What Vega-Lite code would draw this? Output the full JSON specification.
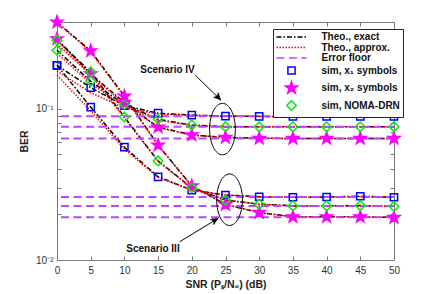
{
  "$schema": "https://vega.github.io/schema/vega-lite/v6.json",
  "width": 337,
  "height": 238,
  "autosize": {"type": "none"},
  "padding": {"left": 57, "top": 22, "right": 42, "bottom": 34},
  "background": "white",
  "config": {
    "view": {"stroke": "#7a7a7a", "strokeWidth": 1},
    "font": "Liberation Sans",
    "axis": {
      "grid": false, "domain": false, "tickColor": "#7a7a7a", "tickSize": -4,
      "labelColor": "#333333", "labelFont": "Liberation Sans", "labelFontSize": 10,
      "titleFont": "Liberation Sans", "titleFontSize": 10.5, "titleFontWeight": "bold", "titleColor": "#222222"
    },
    "legend": {
      "fillColor": "white", "strokeColor": "#262626", "padding": 3,
      "labelFont": "Liberation Sans", "labelFontSize": 10, "labelFontWeight": "bold", "labelColor": "#111111",
      "symbolSize": 64, "symbolStrokeWidth": 1.5, "symbolOffset": 10.5, "labelOffset": 25, "rowPadding": 0.5
    }
  },
  "datasets": {
    "pts": [
      {"snr": 0, "sc": "IV", "sim": "s1", "ex": 0.194, "ap": 0.178},
      {"snr": 5, "sc": "IV", "sim": "s1", "ex": 0.138, "ap": 0.128},
      {"snr": 10, "sc": "IV", "sim": "s1", "ex": 0.105, "ap": 0.101},
      {"snr": 15, "sc": "IV", "sim": "s1", "ex": 0.0935, "ap": 0.0925},
      {"snr": 20, "sc": "IV", "sim": "s1", "ex": 0.0908, "ap": 0.0905},
      {"snr": 25, "sc": "IV", "sim": "s1", "ex": 0.0894, "ap": 0.0893},
      {"snr": 30, "sc": "IV", "sim": "s1", "ex": 0.0891, "ap": 0.0891},
      {"snr": 35, "sc": "IV", "sim": "s1", "ex": 0.089, "ap": 0.089},
      {"snr": 40, "sc": "IV", "sim": "s1", "ex": 0.089, "ap": 0.089},
      {"snr": 45, "sc": "IV", "sim": "s1", "ex": 0.089, "ap": 0.089},
      {"snr": 50, "sc": "IV", "sim": "s1", "ex": 0.089, "ap": 0.089},
      {"snr": 0, "sc": "IV", "sim": "s2", "ex": 0.29, "ap": 0.285},
      {"snr": 5, "sc": "IV", "sim": "s2", "ex": 0.17, "ap": 0.166},
      {"snr": 10, "sc": "IV", "sim": "s2", "ex": 0.11, "ap": 0.108},
      {"snr": 15, "sc": "IV", "sim": "s2", "ex": 0.0757, "ap": 0.0752},
      {"snr": 20, "sc": "IV", "sim": "s2", "ex": 0.0671, "ap": 0.0669},
      {"snr": 25, "sc": "IV", "sim": "s2", "ex": 0.0647, "ap": 0.0646},
      {"snr": 30, "sc": "IV", "sim": "s2", "ex": 0.0638, "ap": 0.0638},
      {"snr": 35, "sc": "IV", "sim": "s2", "ex": 0.0637, "ap": 0.0637},
      {"snr": 40, "sc": "IV", "sim": "s2", "ex": 0.0637, "ap": 0.0637},
      {"snr": 45, "sc": "IV", "sim": "s2", "ex": 0.0637, "ap": 0.0637},
      {"snr": 50, "sc": "IV", "sim": "s2", "ex": 0.0637, "ap": 0.0637},
      {"snr": 0, "sc": "IV", "sim": "sn", "ex": 0.244, "ap": 0.232},
      {"snr": 5, "sc": "IV", "sim": "sn", "ex": 0.152, "ap": 0.147},
      {"snr": 10, "sc": "IV", "sim": "sn", "ex": 0.107, "ap": 0.104},
      {"snr": 15, "sc": "IV", "sim": "sn", "ex": 0.0853, "ap": 0.0839},
      {"snr": 20, "sc": "IV", "sim": "sn", "ex": 0.078, "ap": 0.0775},
      {"snr": 25, "sc": "IV", "sim": "sn", "ex": 0.0761, "ap": 0.0759},
      {"snr": 30, "sc": "IV", "sim": "sn", "ex": 0.076, "ap": 0.076},
      {"snr": 35, "sc": "IV", "sim": "sn", "ex": 0.076, "ap": 0.076},
      {"snr": 40, "sc": "IV", "sim": "sn", "ex": 0.076, "ap": 0.076},
      {"snr": 45, "sc": "IV", "sim": "sn", "ex": 0.076, "ap": 0.076},
      {"snr": 50, "sc": "IV", "sim": "sn", "ex": 0.076, "ap": 0.076},
      {"snr": 0, "sc": "III", "sim": "s1", "ex": 0.194, "ap": 0.167},
      {"snr": 5, "sc": "III", "sim": "s1", "ex": 0.1027, "ap": 0.097},
      {"snr": 10, "sc": "III", "sim": "s1", "ex": 0.0557, "ap": 0.054},
      {"snr": 15, "sc": "III", "sim": "s1", "ex": 0.0355, "ap": 0.0352},
      {"snr": 20, "sc": "III", "sim": "s1", "ex": 0.029, "ap": 0.0289},
      {"snr": 25, "sc": "III", "sim": "s1", "ex": 0.0269, "ap": 0.0269},
      {"snr": 30, "sc": "III", "sim": "s1", "ex": 0.0262, "ap": 0.0262},
      {"snr": 35, "sc": "III", "sim": "s1", "ex": 0.026, "ap": 0.026},
      {"snr": 40, "sc": "III", "sim": "s1", "ex": 0.0261, "ap": 0.0261},
      {"snr": 45, "sc": "III", "sim": "s1", "ex": 0.0264, "ap": 0.0262},
      {"snr": 50, "sc": "III", "sim": "s1", "ex": 0.026, "ap": 0.026},
      {"snr": 0, "sc": "III", "sim": "s2", "ex": 0.374, "ap": 0.37},
      {"snr": 5, "sc": "III", "sim": "s2", "ex": 0.2416, "ap": 0.238},
      {"snr": 10, "sc": "III", "sim": "s2", "ex": 0.1214, "ap": 0.12},
      {"snr": 15, "sc": "III", "sim": "s2", "ex": 0.0575, "ap": 0.0572},
      {"snr": 20, "sc": "III", "sim": "s2", "ex": 0.0309, "ap": 0.0308},
      {"snr": 25, "sc": "III", "sim": "s2", "ex": 0.0233, "ap": 0.0233},
      {"snr": 30, "sc": "III", "sim": "s2", "ex": 0.0206, "ap": 0.0206},
      {"snr": 35, "sc": "III", "sim": "s2", "ex": 0.0193, "ap": 0.0193},
      {"snr": 40, "sc": "III", "sim": "s2", "ex": 0.0193, "ap": 0.0193},
      {"snr": 45, "sc": "III", "sim": "s2", "ex": 0.0193, "ap": 0.0193},
      {"snr": 50, "sc": "III", "sim": "s2", "ex": 0.0191, "ap": 0.0192},
      {"snr": 0, "sc": "III", "sim": "sn", "ex": 0.284, "ap": 0.268},
      {"snr": 5, "sc": "III", "sim": "sn", "ex": 0.1748, "ap": 0.168},
      {"snr": 10, "sc": "III", "sim": "sn", "ex": 0.0883, "ap": 0.087},
      {"snr": 15, "sc": "III", "sim": "sn", "ex": 0.0452, "ap": 0.0448},
      {"snr": 20, "sc": "III", "sim": "sn", "ex": 0.03, "ap": 0.0299},
      {"snr": 25, "sc": "III", "sim": "sn", "ex": 0.0249, "ap": 0.0249},
      {"snr": 30, "sc": "III", "sim": "sn", "ex": 0.0234, "ap": 0.0234},
      {"snr": 35, "sc": "III", "sim": "sn", "ex": 0.0228, "ap": 0.0228},
      {"snr": 40, "sc": "III", "sim": "sn", "ex": 0.0228, "ap": 0.0228},
      {"snr": 45, "sc": "III", "sim": "sn", "ex": 0.0229, "ap": 0.0228},
      {"snr": 50, "sc": "III", "sim": "sn", "ex": 0.0226, "ap": 0.0227}
    ],
    "floors": [
      {"sc": "IV", "sim": "s1", "k": "fl", "ber": 0.0891},
      {"sc": "IV", "sim": "sn", "k": "fl", "ber": 0.076},
      {"sc": "IV", "sim": "s2", "k": "fl", "ber": 0.0637},
      {"sc": "III", "sim": "s1", "k": "fl", "ber": 0.0261},
      {"sc": "III", "sim": "sn", "k": "fl", "ber": 0.0228},
      {"sc": "III", "sim": "s2", "k": "fl", "ber": 0.0192}
    ],
    "notes": [
      {"snr": 16.4, "ber": 0.1803, "t": "Scenario IV"},
      {"snr": 14.24, "ber": 0.0119, "t": "Scenario III"}
    ],
    "ellipses": [
      {"snr": 24.55, "ber": 0.0734},
      {"snr": 25.6, "ber": 0.02503}
    ],
    "arrows": [
      {"id": "IV", "snr": 20.5, "ber": 0.167, "snr2": 24.3, "ber2": 0.1142},
      {"id": "III", "snr": 18.2, "ber": 0.0132, "snr2": 23.9, "ber2": 0.01886}
    ]
  },
  "layer": [
    {
      "data": {"name": "pts"},
      "transform": [{"fold": ["ex", "ap"], "as": ["k", "v"]}, {"filter": "datum.k == 'ex'"}],
      "mark": {"type": "line", "strokeWidth": 1.5},
      "encoding": {
        "x": {"field": "snr", "type": "quantitative", "scale": {"domain": [0, 50], "nice": false, "zero": false},
          "axis": {"orient": "bottom", "values": [0, 5, 10, 15, 20, 25, 30, 35, 40, 45, 50], "title": "SNR (Pₛ/N₀) (dB)", "labelPadding": 9, "titlePadding": 4, "labelFlush": false}},
        "y": {"field": "v", "type": "quantitative", "scale": {"type": "log", "domain": [0.01, 0.375], "nice": false},
          "axis": {"orient": "left", "values": [0.01, 0.02, 0.03, 0.04, 0.05, 0.06, 0.07, 0.08, 0.09, 0.1, 0.2, 0.3], "labelExpr": "abs(datum.value - 0.01) < 0.001 ? '10⁻²' : abs(datum.value - 0.1) < 0.001 ? '10⁻¹' : ''", "title": "BER", "labelPadding": 8, "titlePadding": 6}},
        "detail": [{"field": "sc"}, {"field": "sim"}],
        "stroke": {"field": "k", "type": "nominal",
          "scale": {"domain": ["ex", "ap", "fl", "s1", "s2", "sn"], "range": ["#000000", "#ff0000", "#b847ff", "#0000ff", "#ff00ff", "#00ee00"]},
          "legend": {"title": null, "orient": "none", "legendX": 216, "legendY": 7, "labelExpr": "datum.value=='ex'?'Theo., exact':datum.value=='ap'?'Theo., approx.':datum.value=='fl'?'Error floor':datum.value=='s1'?'sim, x₁ symbols':datum.value=='s2'?'sim, x₂ symbols':'sim, NOMA-DRN'"}},
        "strokeDash": {"field": "k", "type": "nominal",
          "scale": {"domain": ["ex", "ap", "fl", "s1", "s2", "sn"], "range": [[5, 2, 1.5, 2], [1.5, 1.5], [8, 4.5], [1, 0], [1, 0], [1, 0]]},
          "legend": {"title": null, "orient": "none", "legendX": 216, "legendY": 7, "labelExpr": "datum.value=='ex'?'Theo., exact':datum.value=='ap'?'Theo., approx.':datum.value=='fl'?'Error floor':datum.value=='s1'?'sim, x₁ symbols':datum.value=='s2'?'sim, x₂ symbols':'sim, NOMA-DRN'"}}
      }
    },
    {
      "data": {"name": "pts"},
      "transform": [{"fold": ["ex", "ap"], "as": ["k", "v"]}, {"filter": "datum.k == 'ap'"}],
      "mark": {"type": "line", "strokeWidth": 1.5},
      "encoding": {
        "x": {"field": "snr", "type": "quantitative", "scale": {"domain": [0, 50], "nice": false, "zero": false}, "axis": null},
        "y": {"field": "v", "type": "quantitative", "scale": {"type": "log", "domain": [0.01, 0.375], "nice": false}, "axis": null},
        "detail": [{"field": "sc"}, {"field": "sim"}],
        "stroke": {"field": "k", "type": "nominal",
          "scale": {"domain": ["ex", "ap", "fl", "s1", "s2", "sn"], "range": ["#000000", "#ff0000", "#b847ff", "#0000ff", "#ff00ff", "#00ee00"]},
          "legend": {"title": null, "orient": "none", "legendX": 216, "legendY": 7, "labelExpr": "datum.value=='ex'?'Theo., exact':datum.value=='ap'?'Theo., approx.':datum.value=='fl'?'Error floor':datum.value=='s1'?'sim, x₁ symbols':datum.value=='s2'?'sim, x₂ symbols':'sim, NOMA-DRN'"}},
        "strokeDash": {"field": "k", "type": "nominal",
          "scale": {"domain": ["ex", "ap", "fl", "s1", "s2", "sn"], "range": [[5, 2, 1.5, 2], [1.5, 1.5], [8, 4.5], [1, 0], [1, 0], [1, 0]]},
          "legend": {"title": null, "orient": "none", "legendX": 216, "legendY": 7, "labelExpr": "datum.value=='ex'?'Theo., exact':datum.value=='ap'?'Theo., approx.':datum.value=='fl'?'Error floor':datum.value=='s1'?'sim, x₁ symbols':datum.value=='s2'?'sim, x₂ symbols':'sim, NOMA-DRN'"}}
      }
    },
    {
      "data": {"name": "floors"},
      "mark": {"type": "rule", "strokeWidth": 2},
      "encoding": {
        "y": {"field": "ber", "type": "quantitative", "scale": {"type": "log", "domain": [0.01, 0.375], "nice": false}, "axis": null},
        "stroke": {"field": "k", "type": "nominal",
          "scale": {"domain": ["ex", "ap", "fl", "s1", "s2", "sn"], "range": ["#000000", "#ff0000", "#b847ff", "#0000ff", "#ff00ff", "#00ee00"]},
          "legend": {"title": null, "orient": "none", "legendX": 216, "legendY": 7, "labelExpr": "datum.value=='ex'?'Theo., exact':datum.value=='ap'?'Theo., approx.':datum.value=='fl'?'Error floor':datum.value=='s1'?'sim, x₁ symbols':datum.value=='s2'?'sim, x₂ symbols':'sim, NOMA-DRN'"}},
        "strokeDash": {"field": "k", "type": "nominal",
          "scale": {"domain": ["ex", "ap", "fl", "s1", "s2", "sn"], "range": [[5, 2, 1.5, 2], [1.5, 1.5], [8, 4.5], [1, 0], [1, 0], [1, 0]]},
          "legend": {"title": null, "orient": "none", "legendX": 216, "legendY": 7, "labelExpr": "datum.value=='ex'?'Theo., exact':datum.value=='ap'?'Theo., approx.':datum.value=='fl'?'Error floor':datum.value=='s1'?'sim, x₁ symbols':datum.value=='s2'?'sim, x₂ symbols':'sim, NOMA-DRN'"}}
      }
    },
    {
      "data": {"name": "pts"},
      "mark": {"type": "point", "size": 64, "strokeWidth": 1.5, "opacity": 1, "clip": false},
      "encoding": {
        "x": {"field": "snr", "type": "quantitative", "scale": {"domain": [0, 50], "nice": false, "zero": false}, "axis": null},
        "y": {"field": "ex", "type": "quantitative", "scale": {"type": "log", "domain": [0.01, 0.375], "nice": false}, "axis": null},
        "shape": {"field": "sim", "type": "nominal",
          "scale": {"domain": ["ex", "ap", "fl", "s1", "s2", "sn"], "range": ["M-3.75,0H3.75", "M-3.75,0H3.75", "M-3.75,0H3.75", "M-0.9,-0.9H0.9V0.9H-0.9Z", "M0,-1.6L0.376,-0.518L1.522,-0.494L0.608,0.198L0.941,1.294L0,0.64L-0.941,1.294L-0.608,0.198L-1.522,-0.494L-0.376,-0.518Z", "M0,-1.2L1.2,0L0,1.2L-1.2,0Z"]},
          "legend": {"title": null, "orient": "none", "legendX": 216, "legendY": 7, "labelExpr": "datum.value=='ex'?'Theo., exact':datum.value=='ap'?'Theo., approx.':datum.value=='fl'?'Error floor':datum.value=='s1'?'sim, x₁ symbols':datum.value=='s2'?'sim, x₂ symbols':'sim, NOMA-DRN'"}},
        "stroke": {"field": "sim", "type": "nominal",
          "scale": {"domain": ["ex", "ap", "fl", "s1", "s2", "sn"], "range": ["#000000", "#ff0000", "#b847ff", "#0000ff", "#ff00ff", "#00ee00"]},
          "legend": {"title": null, "orient": "none", "legendX": 216, "legendY": 7, "labelExpr": "datum.value=='ex'?'Theo., exact':datum.value=='ap'?'Theo., approx.':datum.value=='fl'?'Error floor':datum.value=='s1'?'sim, x₁ symbols':datum.value=='s2'?'sim, x₂ symbols':'sim, NOMA-DRN'"}},
        "fill": {"field": "sim", "type": "nominal",
          "scale": {"domain": ["ex", "ap", "fl", "s1", "s2", "sn"], "range": ["transparent", "transparent", "transparent", "transparent", "#ff00ff", "transparent"]},
          "legend": {"title": null, "orient": "none", "legendX": 216, "legendY": 7, "labelExpr": "datum.value=='ex'?'Theo., exact':datum.value=='ap'?'Theo., approx.':datum.value=='fl'?'Error floor':datum.value=='s1'?'sim, x₁ symbols':datum.value=='s2'?'sim, x₂ symbols':'sim, NOMA-DRN'"}}
      }
    },
    {
      "data": {"name": "ellipses"},
      "mark": {"type": "point", "shape": "M0,-1C0.276,-1,0.5,-0.552,0.5,0C0.5,0.552,0.276,1,0,1C-0.276,1,-0.5,0.552,-0.5,0C-0.5,-0.552,-0.276,-1,0,-1Z", "size": 2650, "stroke": "#000000", "strokeWidth": 1, "fill": "transparent", "opacity": 1},
      "encoding": {
        "x": {"field": "snr", "type": "quantitative", "scale": {"domain": [0, 50], "nice": false, "zero": false}, "axis": null},
        "y": {"field": "ber", "type": "quantitative", "scale": {"type": "log", "domain": [0.01, 0.375], "nice": false}, "axis": null}
      }
    },
    {
      "data": {"name": "arrows"},
      "mark": {"type": "rule", "stroke": "#000000", "strokeWidth": 1},
      "encoding": {
        "x": {"field": "snr", "type": "quantitative", "scale": {"domain": [0, 50], "nice": false, "zero": false}, "axis": null},
        "y": {"field": "ber", "type": "quantitative", "scale": {"type": "log", "domain": [0.01, 0.375], "nice": false}, "axis": null},
        "x2": {"field": "snr2"},
        "y2": {"field": "ber2"}
      }
    },
    {
      "data": {"name": "arrows"},
      "transform": [{"filter": "datum.id == 'IV'"}],
      "mark": {"type": "point", "shape": "M0,0L-1,-0.45L-0.75,0L-1,0.45Z", "size": 200, "angle": 46, "fill": "#000000", "stroke": "#000000", "strokeWidth": 0.5, "filled": true, "opacity": 1},
      "encoding": {
        "x": {"field": "snr2", "type": "quantitative", "scale": {"domain": [0, 50], "nice": false, "zero": false}, "axis": null},
        "y": {"field": "ber2", "type": "quantitative", "scale": {"type": "log", "domain": [0.01, 0.375], "nice": false}, "axis": null}
      }
    },
    {
      "data": {"name": "arrows"},
      "transform": [{"filter": "datum.id == 'III'"}],
      "mark": {"type": "point", "shape": "M0,0L-1,-0.45L-0.75,0L-1,0.45Z", "size": 200, "angle": 328.6, "fill": "#000000", "stroke": "#000000", "strokeWidth": 0.5, "filled": true, "opacity": 1},
      "encoding": {
        "x": {"field": "snr2", "type": "quantitative", "scale": {"domain": [0, 50], "nice": false, "zero": false}, "axis": null},
        "y": {"field": "ber2", "type": "quantitative", "scale": {"type": "log", "domain": [0.01, 0.375], "nice": false}, "axis": null}
      }
    },
    {
      "data": {"name": "notes"},
      "mark": {"type": "text", "font": "Liberation Sans", "fontSize": 10, "fontWeight": "bold", "color": "#111111", "align": "center", "baseline": "middle"},
      "encoding": {
        "x": {"field": "snr", "type": "quantitative", "scale": {"domain": [0, 50], "nice": false, "zero": false}, "axis": null},
        "y": {"field": "ber", "type": "quantitative", "scale": {"type": "log", "domain": [0.01, 0.375], "nice": false}, "axis": null},
        "text": {"field": "t"}
      }
    },
    {
      "data": {"name": "pts"},
      "mark": {"type": "point", "opacity": 0},
      "encoding": {
        "x": {"field": "snr", "type": "quantitative", "scale": {"domain": [0, 50], "nice": false, "zero": false},
          "axis": {"orient": "top", "values": [0, 5, 10, 15, 20, 25, 30, 35, 40, 45, 50], "labels": false, "title": null}},
        "y": {"field": "ex", "type": "quantitative", "scale": {"type": "log", "domain": [0.01, 0.375], "nice": false},
          "axis": {"orient": "right", "values": [0.01, 0.02, 0.03, 0.04, 0.05, 0.06, 0.07, 0.08, 0.09, 0.1, 0.2, 0.3], "labels": false, "title": null}}
      }
    }
  ],
  "resolve": {"axis": {"x": "independent", "y": "independent"}}
}
